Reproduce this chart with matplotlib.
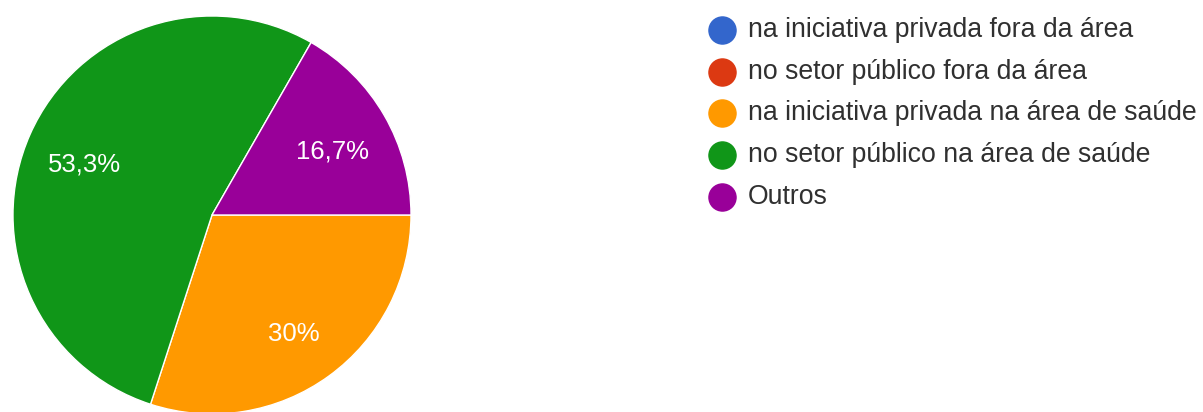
import matplotlib
matplotlib.use("Agg")
import matplotlib.pyplot as plt
from matplotlib.lines import Line2D

plt.rcParams['font.family'] = ['Liberation Sans', 'DejaVu Sans']

# respostas (%)
categorias = [
    'na iniciativa privada fora da área',
    'no setor público fora da área',
    'na iniciativa privada na área de saúde',
    'no setor público na área de saúde',
    'Outros',
]
valores = [0, 0, 30, 53.3, 16.7]
cores = ['#3366cc', '#dc3912', '#ff9900', '#109618', '#990099']

W, H = 1203, 412
fig = plt.figure(figsize=(W / 100, H / 100), dpi=100)

# pizza: centro (212, 215) px, raio 200 px
ax = fig.add_axes([12 / W, (H - 415) / H, 400 / W, 400 / H])


def rotulo(pct):
    if pct < 0.05:
        return ''
    s = f"{pct:.1f}".rstrip('0').rstrip('.')
    return s.replace('.', ',') + '%'


wedges, textos, pcts = ax.pie(
    valores, colors=cores, startangle=0, counterclock=False,
    autopct=rotulo, pctdistance=0.70,
    wedgeprops=dict(edgecolor='white', linewidth=1.0),
    textprops=dict(color='white', fontsize=18.5),
)
# rótulos um pouco abaixo do centro da fatia
for t in pcts:
    x, y = t.get_position()
    t.set_position((x, y - 0.03))

ax.set_xlim(-1.005, 1.005)
ax.set_ylim(-1.005, 1.005)
ax.axis('off')

# legenda
x_marca, x_texto = 722, 748
y0, passo = 30, 41.7
for i, (cat, cor) in enumerate(zip(categorias, cores)):
    y = 1 - (y0 + passo * i) / H
    fig.add_artist(Line2D([x_marca / W], [y], marker='o', markersize=19.5,
                          color=cor, linestyle='none', transform=fig.transFigure))
    fig.text(x_texto / W, y, cat, va='center', ha='left',
             fontsize=19.2, color='#303030')

fig.savefig('out.png', dpi=100)
